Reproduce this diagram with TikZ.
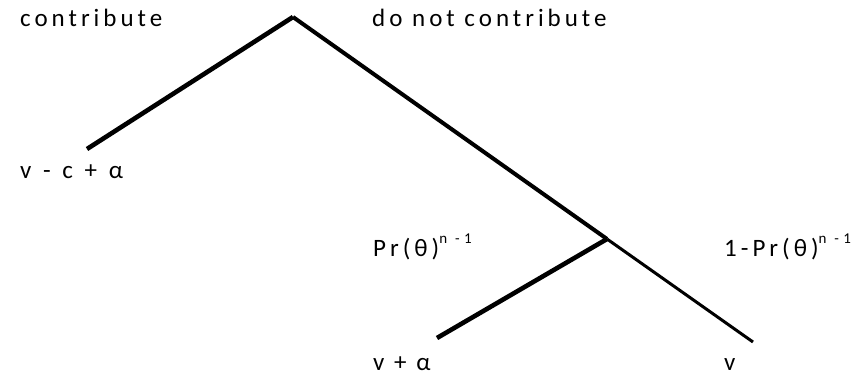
\documentclass[tikz,border=0pt]{standalone}
\usepackage{fontspec}
\setmainfont{Carlito}[LetterSpace=16]
\newfontfamily\supfont{Carlito}[LetterSpace=30]
\begin{document}
\begin{tikzpicture}[x=1pt,y=-1pt,
  lbl/.style={anchor=base west,inner sep=0pt,font=\fontsize{25}{29}\selectfont},
  thick4/.style={line width=4.6pt},
  thick3/.style={line width=4pt},
  thin2/.style={line width=3pt}]
\useasboundingbox (0,0) rectangle (862,375);
\coordinate (root) at (293,17);
\coordinate (a) at (87,149);
\coordinate (m) at (607,239);
\coordinate (b) at (437,338);
\coordinate (c) at (753,342);
\draw[thick4] (root) -- (a);
\draw[thick3] (root) -- (m);
\draw[thin2] (m) -- (c);
\draw[thick4] (m) -- (b);
\node[lbl] (t1) at (20,26) {contribute};
\node[lbl] (t2) at (372,26) {do not contribute};
\node[lbl] (t3) at (20,178) {v\kern2pt{} -\kern2pt{} c\kern2pt{} +\kern2pt{} α};
\node[lbl] (t4) at (373,256) {Pr(θ)\raisebox{0.5em}{\supfont\fontsize{15}{15}\selectfont n -1}};
\node[lbl] (t5) at (724,256) {1-Pr(θ)\raisebox{0.5em}{\supfont\fontsize{15}{15}\selectfont n -1}};
\node[lbl] (t6) at (373,370) {v + α};
\node[lbl] (t7) at (724,370) {v};
\end{tikzpicture}
\end{document}
